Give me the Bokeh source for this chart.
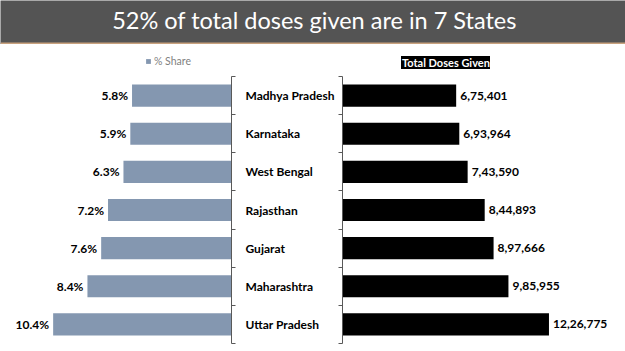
from bokeh.plotting import figure
from bokeh.layouts import column, row
from bokeh.models import (Range1d, FixedTicker, Legend, LegendItem, Label,
                          BoxAnnotation, ColumnDataSource)
from bokeh.core.properties import value
from bokeh.embed import file_html
from bokeh.resources import INLINE

# ---------------- data ----------------
title_text = "52% of total doses given are in 7 States"
states = ["Madhya Pradesh", "Karnataka", "West Bengal", "Rajasthan",
          "Gujarat", "Maharashtra", "Uttar Pradesh"]
share_pct = [5.8, 5.9, 6.3, 7.2, 7.6, 8.4, 10.4]
total_doses = [675401, 693964, 743590, 844893, 897666, 985955, 1226775]
share_legend = "% Share"
doses_legend = "Total Doses Given"


def indian_format(n):
    s = str(int(n))
    if len(s) <= 3:
        return s
    last3 = s[-3:]
    rest = s[:-3]
    groups = []
    while len(rest) > 2:
        groups.insert(0, rest[-2:])
        rest = rest[:-2]
    if rest:
        groups.insert(0, rest)
    return ",".join(groups) + "," + last3


n = len(states)
rows = list(range(n))
bounds = [i - 0.5 for i in range(n + 1)]

src = ColumnDataSource(dict(
    y=rows,
    state=states,
    share=share_pct,
    share_lbl=[f"{v:.1f}%" for v in share_pct],
    doses=total_doses,
    doses_lbl=[indian_format(v) for v in total_doses],
))

FONT = "Lato"
AXIS_COLOR = "#595959"
BAR_GRAY = "#8497B0"

# ---------------- header ----------------
header = figure(width=625, height=44, x_range=Range1d(0, 625), y_range=Range1d(0, 44),
                toolbar_location=None, output_backend="svg",
                x_axis_location=None, y_axis_location=None, min_border=0)
header.grid.visible = False
header.outline_line_color = None
header.background_fill_color = "#545454"
header.border_fill_color = "#545454"
header.add_layout(BoxAnnotation(top=2, fill_color="#C9A27E", fill_alpha=1,
                                line_color=None))
header.add_layout(Label(x=314, y=25, text=title_text, text_align="center",
                        text_baseline="middle", text_color="white",
                        text_font=FONT, text_font_size="23.5px"))

# ---------------- shared vertical scale ----------------
# plot rows occupy 267 px; 32 px of legend space sits above them in the frame
row_px = 267 / n
extra_top = 32 / row_px
yr = Range1d(start=n - 0.5, end=-0.5 - extra_top)

# ---------------- left chart (% share) ----------------
left = figure(width=338, height=307, x_range=Range1d(13.47, 0), y_range=yr,
              toolbar_location=None, output_backend="svg",
              x_axis_location=None, y_axis_location="right",
              min_border_left=0, min_border_right=107,
              min_border_top=0, min_border_bottom=8)
left.grid.visible = False
left.outline_line_color = None

rl = left.hbar(y="y", left="share", right=0, height=0.58, source=src,
               fill_color=BAR_GRAY, line_color=None)
left.text(x="share", y="y", text="share_lbl", source=src, x_offset=-4,
          text_align="right", text_baseline="middle", text_font=value(FONT),
          text_font_style="bold", text_font_size="12px", text_color="black")

ya = left.yaxis[0]
ya.bounds = (-0.5, n - 0.5)
ya.ticker = FixedTicker(ticks=rows, minor_ticks=bounds)
ya.major_label_overrides = {i: s for i, s in zip(rows, states)}
ya.major_tick_line_color = None
ya.major_tick_out = 0
ya.major_tick_in = 0
ya.minor_tick_out = 4
ya.minor_tick_in = 0
ya.minor_tick_line_color = AXIS_COLOR
ya.axis_line_color = AXIS_COLOR
ya.major_label_standoff = 10
ya.major_label_text_font = FONT
ya.major_label_text_font_style = "bold"
ya.major_label_text_font_size = "12px"
ya.major_label_text_color = "black"

leg_l = Legend(items=[LegendItem(label=share_legend, renderers=[rl])],
               location=(145, 276), margin=0, padding=2, spacing=0,
               glyph_width=6, glyph_height=6, label_height=10,
               label_standoff=3, label_text_font=FONT,
               label_text_font_size="10.5px", label_text_color="#7F7F7F",
               border_line_color=None, background_fill_alpha=0)
left.add_layout(leg_l)

# ---------------- right chart (total doses) ----------------
right = figure(width=287, height=307, x_range=Range1d(0, 1681500), y_range=yr,
               toolbar_location=None, output_backend="svg",
               x_axis_location=None, y_axis_location="left",
               min_border_left=4, min_border_right=0,
               min_border_top=0, min_border_bottom=8)
right.grid.visible = False
right.outline_line_color = None

rr = right.hbar(y="y", left=0, right="doses", height=0.58, source=src,
                fill_color="black", line_color=None)
right.text(x="doses", y="y", text="doses_lbl", source=src, x_offset=4,
           text_align="left", text_baseline="middle", text_font=value(FONT),
           text_font_style="bold", text_font_size="12px", text_color="black")

yb = right.yaxis[0]
yb.bounds = (-0.5, n - 0.5)
yb.ticker = FixedTicker(ticks=[], minor_ticks=bounds)
yb.major_tick_out = 0
yb.major_tick_in = 0
yb.major_label_standoff = 0
yb.minor_tick_out = 4
yb.minor_tick_in = 0
yb.minor_tick_line_color = AXIS_COLOR
yb.axis_line_color = AXIS_COLOR

leg_r = Legend(items=[LegendItem(label=doses_legend, renderers=[rr])],
               location=(59, 274), margin=0, padding=4, spacing=0,
               glyph_width=1, glyph_height=1, label_height=10,
               label_standoff=0, label_text_font=FONT,
               label_text_font_style="bold",
               label_text_font_size="11px", label_text_color="white",
               border_line_color=None, background_fill_color="black",
               background_fill_alpha=1)
right.add_layout(leg_r)

layout = column(header, row(left, right, spacing=0), spacing=0)

open("out.html", "w").write(file_html(layout, INLINE))
